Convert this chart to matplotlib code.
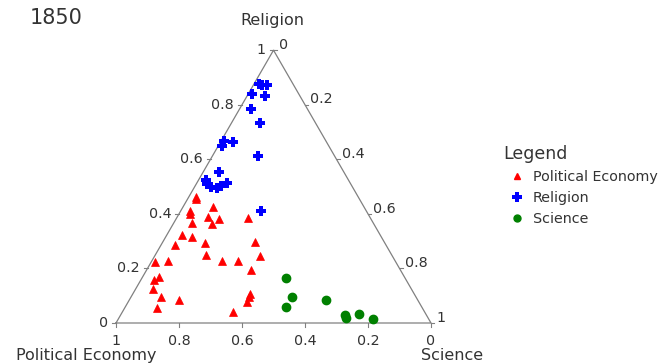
import numpy as np
import matplotlib
matplotlib.use("Agg")
import matplotlib.pyplot as plt
from matplotlib.lines import Line2D

# ---- data: (Political Economy, Religion, Science) fractions ----
pe_political = [0.516, 0.560, 0.565, 0.480, 0.512, 0.480, 0.512, 0.574, 0.388, 0.630,
                0.600, 0.670, 0.571, 0.411, 0.590, 0.551, 0.499, 0.421, 0.721, 0.764,
                0.473, 0.799, 0.781, 0.820, 0.810, 0.757, 0.842, 0.521, 0.528, 0.547,
                0.607, 0.518]
pe_religion = [0.462, 0.411, 0.400, 0.424, 0.389, 0.383, 0.364, 0.367, 0.384, 0.321,
               0.315, 0.287, 0.295, 0.297, 0.251, 0.226, 0.226, 0.245, 0.227, 0.224,
               0.196, 0.159, 0.167, 0.123, 0.094, 0.084, 0.056, 0.108, 0.097, 0.076,
               0.041, 0.453]
pe_science = [0.022, 0.029, 0.035, 0.096, 0.099, 0.137, 0.124, 0.059, 0.228, 0.049,
              0.085, 0.043, 0.134, 0.292, 0.159, 0.223, 0.275, 0.334, 0.052, 0.012,
              0.331, 0.042, 0.052, 0.057, 0.096, 0.159, 0.102, 0.371, 0.375, 0.377,
              0.352, 0.029]

rel_political = [0.106, 0.102, 0.084, 0.149, 0.112, 0.177, 0.177, 0.322, 0.296, 0.338,
                 0.245, 0.395, 0.453, 0.457, 0.450, 0.433, 0.392, 0.335, 0.415]
rel_religion = [0.877, 0.871, 0.871, 0.838, 0.832, 0.786, 0.732, 0.668, 0.664, 0.650,
                0.611, 0.555, 0.524, 0.510, 0.497, 0.495, 0.512, 0.411, 0.504]
rel_science = [0.017, 0.027, 0.045, 0.013, 0.056, 0.037, 0.091, 0.010, 0.040, 0.012,
               0.144, 0.050, 0.023, 0.033, 0.053, 0.072, 0.096, 0.254, 0.081]

sci_political = [0.379, 0.393, 0.432, 0.291, 0.258, 0.261, 0.212, 0.178]
sci_religion = [0.165, 0.094, 0.058, 0.084, 0.029, 0.017, 0.033, 0.014]
sci_science = [0.456, 0.513, 0.510, 0.625, 0.713, 0.722, 0.755, 0.808]

tick_values = [0.0, 0.2, 0.4, 0.6, 0.8, 1.0]
tick_labels = ["0", "0.2", "0.4", "0.6", "0.8", "1"]
year_label = "1850"
axis_titles = ["Political Economy", "Religion", "Science"]
legend_title = "Legend"

H = np.sqrt(3) / 2


def tern(p, r, s):
    p, r, s = np.asarray(p), np.asarray(r), np.asarray(s)
    tot = p + r + s
    r, s = r / tot, s / tot
    return s + r / 2.0, r * H


W, HT = 668, 364
fig = plt.figure(figsize=(W / 100, HT / 100), dpi=100)
ax = fig.add_axes([0, 0, 1, 1])
scale = 315.0
x0, ybase = 116.0, 323.0
ax.set_xlim(-x0 / scale, (W - x0) / scale)
ax.set_ylim(-(HT - ybase) / scale, ybase / scale)
ax.axis("off")

gray = "#808080"
tri_x = [0, 1, 0.5, 0]
tri_y = [0, 0, H, 0]
ax.plot(tri_x, tri_y, color=gray, lw=0.9, clip_on=False)

tl = 4 / scale
fs_tick = 10.3
tc = "#333333"
for v, lab in zip(tick_values, tick_labels):
    # bottom axis: Political Economy (1 at left)
    bx, by = tern(v, 0, 1 - v)
    ax.plot([bx, bx], [by, by - tl], color=gray, lw=0.8, clip_on=False)
    ax.text(bx, by - 0.058, lab, ha="center", va="center", fontsize=fs_tick, color=tc)
    # left axis: Religion (0 bottom, 1 top)
    lx, ly = tern(1 - v, v, 0)
    ax.plot([lx, lx - tl], [ly, ly], color=gray, lw=0.8, clip_on=False)
    ax.text(lx - 0.025, ly, lab, ha="right", va="center", fontsize=fs_tick, color=tc)
    # right axis: Science (0 top, 1 bottom-right)
    rx, ry = tern(0, 1 - v, v)
    ax.plot([rx, rx + tl * 0.8], [ry, ry], color=gray, lw=0.8, clip_on=False)
    ax.text(rx + 0.017, ry + 0.017, lab, ha="left", va="center", fontsize=fs_tick, color=tc)

fs_title = 11.5
ax.text(0.498, 0.959, axis_titles[1], ha="center", va="center", fontsize=fs_title, color=tc)
ax.text(-0.094, -0.102, axis_titles[0], ha="center", va="center", fontsize=fs_title, color=tc)
ax.text(1.067, -0.102, axis_titles[2], ha="center", va="center", fontsize=fs_title, color=tc)

x, y = tern(pe_political, pe_religion, pe_science)
ax.plot(x, y, ls="none", marker="^", ms=5.5, color="#ff0000", mec="#ff0000", mew=0.5,
        clip_on=False, label="Political Economy")
x, y = tern(rel_political, rel_religion, rel_science)
ax.plot(x, y, ls="none", marker="P", ms=7.5, color="#0000ff", mec="#0000ff", mew=0,
        clip_on=False, label="Religion")
x, y = tern(sci_political, sci_religion, sci_science)
ax.plot(x, y, ls="none", marker="o", ms=6, color="#008000", mec="#008000", clip_on=False,
        label="Science")

handles = [
    Line2D([], [], ls="none", marker="^", ms=5, color="#ff0000"),
    Line2D([], [], ls="none", marker="P", ms=6.5, color="#0000ff", mew=0),
    Line2D([], [], ls="none", marker="o", ms=5, color="#008000"),
]
leg = fig.legend(handles, axis_titles, title=legend_title, frameon=False,
                 loc="upper left", bbox_to_anchor=(503 / W, 1 - 145 / HT),
                 borderpad=0, borderaxespad=0, handlelength=2.0, handletextpad=0.1,
                 labelspacing=0.5, fontsize=10.3, title_fontsize=12.5)
leg._legend_box.align = "left"
for t in leg.get_texts():
    t.set_color(tc)
leg.get_title().set_color(tc)

fig.text(30 / W, 1 - 18 / HT, year_label, ha="left", va="center", fontsize=15, color=tc)

fig.savefig("out.png", dpi=100)
